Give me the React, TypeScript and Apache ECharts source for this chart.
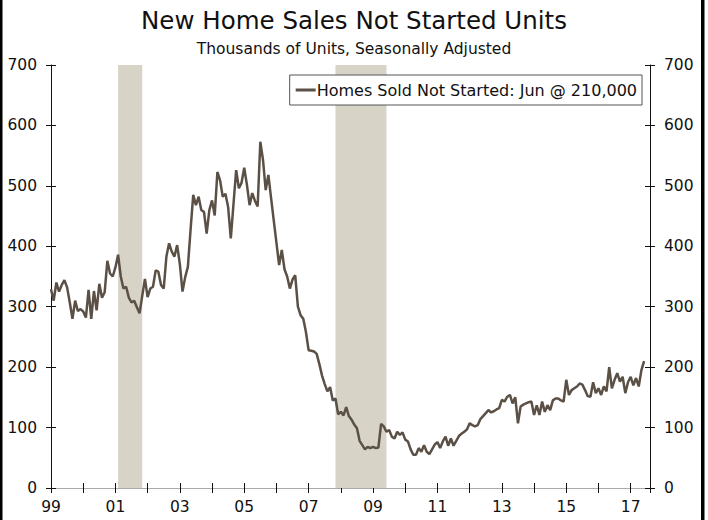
import React, { useEffect, useRef } from "react";
import * as echarts from "echarts";

const titleText = "New Home Sales Not Started Units";
const subtitleText = "Thousands of Units, Seasonally Adjusted";
const seriesName = "Homes Sold Not Started: Jun @ 210,000";

const startYear = 1999;
const v1999 = [329, 310, 340, 325, 336, 344, 332, 307, 280, 310, 293, 296];
const v2000 = [292, 282, 328, 280, 326, 294, 338, 315, 324, 376, 355, 350];
const v2001 = [365, 386, 350, 330, 333, 315, 307, 310, 299, 289, 318, 346];
const v2002 = [316, 330, 333, 360, 358, 336, 330, 383, 405, 391, 383, 402];
const v2003 = [371, 325, 349, 366, 427, 485, 468, 482, 460, 457, 421, 460];
const v2004 = [476, 451, 523, 509, 482, 487, 465, 413, 470, 526, 496, 505];
const v2005 = [530, 502, 468, 488, 475, 466, 573, 543, 493, 518, 480, 443];
const v2006 = [406, 369, 394, 362, 350, 330, 345, 352, 300, 286, 280, 258];
const v2007 = [228, 227, 226, 222, 205, 186, 172, 160, 167, 145, 148, 122];
const v2008 = [126, 120, 134, 119, 113, 105, 99, 78, 71, 64, 68, 66];
const v2009 = [68, 66, 67, 106, 102, 93, 96, 85, 82, 93, 88, 92];
const v2010 = [80, 77, 64, 55, 55, 66, 60, 71, 60, 56, 64, 72];
const v2011 = [76, 66, 77, 85, 70, 82, 70, 78, 86, 90, 93, 97];
const v2012 = [107, 104, 102, 104, 114, 119, 124, 129, 125, 127, 130, 132];
const v2013 = [146, 143, 151, 154, 140, 150, 107, 135, 138, 140, 142, 143];
const v2014 = [121, 137, 121, 143, 126, 137, 129, 145, 148, 148, 145, 143];
const v2015 = [179, 154, 162, 165, 168, 173, 171, 162, 152, 151, 175, 157];
const v2016 = [165, 154, 168, 160, 200, 165, 179, 190, 176, 184, 157, 175];
const v2017 = [184, 170, 182, 168, 195, 210];

const monthlyByYear = [
  v1999, v2000, v2001, v2002, v2003, v2004, v2005, v2006, v2007, v2008,
  v2009, v2010, v2011, v2012, v2013, v2014, v2015, v2016, v2017,
];

const recessions = [
  ["2001-02", "2001-11"],
  ["2007-11", "2009-06"],
];

const yMin = 0;
const yMax = 700;
const yInterval = 100;
const xMin = 1999;
const xMax = 2017.6;

const FONT = "DejaVu Sans";

function toYear(s: string): number {
  const [y, m] = s.split("-").map(Number);
  return y + (m - 1) / 12;
}

export default function App() {
  const ref = useRef<HTMLDivElement>(null);

  useEffect(() => {
    if (!ref.current) return;
    const chart = echarts.init(ref.current, undefined, { renderer: "svg" });

    const points = monthlyByYear.flat().map((v, i) => [startYear + i / 12, v]);
    const areas = recessions.map(([a, b]) => [{ xAxis: toYear(a) }, { xAxis: toYear(b) }]);

    const xLabel = (v: number) =>
      Number.isInteger(v) && v % 2 === 1 ? String(v).slice(2) : "";

    const baseX = {
      type: "value",
      min: xMin,
      max: xMax,
      interval: 1,
      splitLine: { show: false },
    };
    const baseY = {
      type: "value",
      min: yMin,
      max: yMax,
      interval: yInterval,
      splitLine: { show: false },
    };
    const labelStyle = { color: "#111", fontSize: 15.5, fontFamily: FONT };

    chart.setOption({
      animation: false,
      backgroundColor: "#fff",
      title: [
        {
          text: titleText,
          left: "center",
          top: 3,
          textStyle: { fontSize: 24.5, fontWeight: "normal", fontFamily: FONT, color: "#111" },
        },
        {
          text: subtitleText,
          left: "center",
          top: 36,
          textStyle: { fontSize: 15.5, fontWeight: "normal", fontFamily: FONT, color: "#111" },
        },
      ],
      legend: {
        data: [{ name: seriesName, icon: "rect" }],
        top: 75,
        right: 66,
        itemWidth: 20,
        itemHeight: 3,
        padding: [7, 5, 7, 6],
        borderColor: "#555",
        borderWidth: 1,
        backgroundColor: "#fff",
        textStyle: { fontSize: 16, fontFamily: FONT, color: "#111", padding: [0, 0, 0, -4] },
      },
      grid: { left: 51, right: 58, top: 65, bottom: 32 },
      xAxis: [
        {
          ...baseX,
          position: "bottom",
          axisLine: { lineStyle: { color: "#111", width: 1 } },
          axisTick: { length: 5, lineStyle: { color: "#111" } },
          axisLabel: { ...labelStyle, formatter: xLabel, margin: 11 },
        },
        {
          ...baseX,
          position: "bottom",
          axisLine: { show: false },
          axisTick: { inside: true, length: 5, lineStyle: { color: "#111" } },
          axisLabel: { show: false },
        },
        {
          ...baseX,
          position: "top",
          axisLine: { lineStyle: { color: "#aaa", width: 1 } },
          axisTick: { show: false },
          axisLabel: { show: false },
        },
      ],
      yAxis: [
        {
          ...baseY,
          position: "left",
          axisLine: { show: true, lineStyle: { color: "#111", width: 1 } },
          axisTick: { show: true, length: 5, lineStyle: { color: "#111" } },
          axisLabel: { ...labelStyle, margin: 14 },
        },
        {
          ...baseY,
          position: "left",
          axisLine: { show: false },
          axisTick: { show: true, inside: true, length: 5, lineStyle: { color: "#111" } },
          axisLabel: { show: false },
        },
        {
          ...baseY,
          position: "right",
          axisLine: { show: true, lineStyle: { color: "#111", width: 1 } },
          axisTick: { show: true, length: 5, lineStyle: { color: "#111" } },
          axisLabel: { ...labelStyle, margin: 14 },
        },
        {
          ...baseY,
          position: "right",
          axisLine: { show: false },
          axisTick: { show: true, inside: true, length: 5, lineStyle: { color: "#111" } },
          axisLabel: { show: false },
        },
      ],
      graphic: [
        { type: "rect", left: 0, top: 0, shape: { width: 2.5, height: 520 }, style: { fill: "#000" } },
        { type: "rect", left: 701, top: 0, shape: { width: 3.5, height: 520 }, style: { fill: "#000" } },
      ],
      series: [
        {
          type: "line",
          name: "recessions",
          data: [],
          z: 1,
          silent: true,
          markArea: {
            silent: true,
            itemStyle: { color: "#d7d3c7", opacity: 1 },
            data: areas,
          },
        },
        {
          type: "line",
          name: seriesName,
          data: points,
          z: 3,
          showSymbol: false,
          symbol: "none",
          lineStyle: { color: "#5b5046", width: 2.5 },
          itemStyle: { color: "#5b5046" },
        },
      ],
    });

    return () => chart.dispose();
  }, []);

  return (
    <div
      ref={ref}
      style={{ position: "fixed", left: 0, top: 0, width: 708, height: 520, background: "#fff" }}
    />
  );
}
